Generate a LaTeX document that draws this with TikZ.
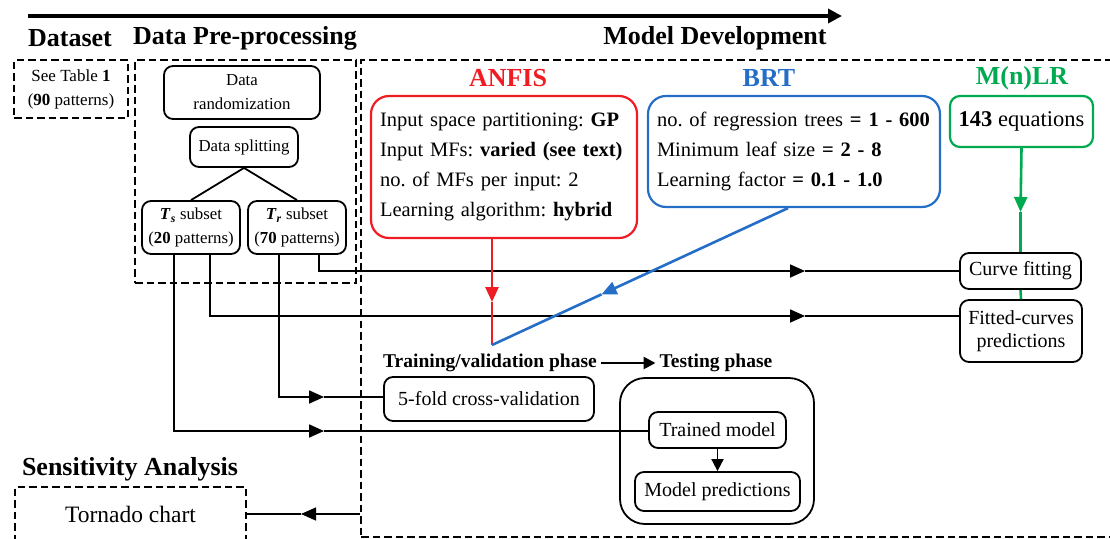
\documentclass[tikz,border=0pt]{standalone}
\usepackage{fontspec}
\setmainfont{Liberation Serif}
\usetikzlibrary{arrows.meta,calc}

\definecolor{anfisred}{RGB}{240,28,36}
\definecolor{brtblue}{RGB}{36,110,200}
\definecolor{mlrgreen}{RGB}{0,170,80}

\tikzset{
  sz/.style 2 args={minimum width=#1pt, minimum height=#2pt},
  dashbox/.style={draw, line width=2.9pt, dash pattern=on 7.5pt off 4pt, inner sep=0pt, align=center},
  rbox/.style={draw, line width=1.8pt, rounded corners=9pt, align=center, inner sep=0pt,
    font=\fontsize{20}{23}\selectfont},
  sbox/.style={rbox, font=\fontsize{16.8}{24}\selectfont},
  cbox/.style={draw, line width=2.2pt, rounded corners=18pt, inner sep=0pt},
  head/.style={font=\bfseries\fontsize{26}{28}\selectfont, inner sep=2pt},
  subhead/.style={font=\bfseries\fontsize{19.5}{22}\selectfont, inner sep=4pt},
  conn/.style={line width=1.8pt},
  flow/.style={line width=2.6pt},
  tip/.style={-{Triangle[length=15pt,width=13pt]}},
}

\newcommand{\Tsub}[1]{\textbf{\textit{T}}\textsubscript{\textbf{\textit{#1}}}}

\begin{document}
\frenchspacing
\begin{tikzpicture}[x=1pt,y=-1pt]
\useasboundingbox (0,0) rectangle (1110,538);

% overall flow arrow
\coordinate (flowA) at (28,16);
\coordinate (flowB) at (842,16);
\draw[line width=4pt, -{Triangle[length=14pt,width=14pt]}] (flowA) -- (flowB);

% stage headings
\node[head] (hds) at (70,38) {Dataset};
\node[head] (hpre) at (245,38) {Data Pre-processing};
\node[head] (hmd) at (715,38) {Model Development};
\node[head] (hsens) at (130,469) {Sensitivity Analysis};

% dataset
\node[dashbox, sz={114}{58}, font=\fontsize{17}{24}\selectfont] (ds) at (71,89)
  {See Table \textbf{1}\\(\textbf{90} patterns)};

% pre-processing
\node[dashbox, sz={221}{223}] (pre) at (245.5,171.5) {};
\node[sbox, sz={156}{53}] (rand) at (242,92.5) {Data\\randomization};
\node[sbox, sz={108}{40}] (split) at (244,147) {Data splitting};
\node[sbox, sz={98}{53}] (ts) at (191,227.5) {\Tsub{s} subset\\(\textbf{20} patterns)};
\node[sbox, sz={98}{53}] (tr) at (297,227.5) {\Tsub{r} subset\\(\textbf{70} patterns)};
\draw[conn] (split.south) -- (ts.north);
\draw[conn] (split.south) -- (tr.north);

% model development
\node[dashbox, sz={764}{477}] (md) at (743,298.5) {};

\node[head, text=anfisred] (hanfis) at (508,78) {ANFIS};
\node[head, text=brtblue] (hbrt) at (769,78) {BRT};
\node[head, text=mlrgreen] (hmlr) at (1022,78) {M(n)LR};

\node[cbox, draw=anfisred, sz={266}{142}, text width=248pt, align=left,
  font=\fontsize{20.5}{30}\selectfont] (anfis) at (504,167)
  {Input space partitioning: \textbf{GP}\\
   Input MFs: \textbf{varied (see text)}\\
   no. of MFs per input: 2\\
   Learning algorithm: \textbf{hybrid}};

\node[cbox, draw=brtblue, sz={292}{111}, text width=274pt, align=left,
  font=\fontsize{20.5}{30}\selectfont] (brt) at (794,151.5)
  {no. of regression trees \textbf{= 1 - 600}\\
   Minimum leaf size \textbf{= 2 - 8}\\
   Learning factor \textbf{= 0.1 - 1.0}};

\node[cbox, draw=mlrgreen, rounded corners=10pt, sz={143}{51},
  font=\fontsize{22.5}{24}\selectfont] (mlr) at (1021.5,121.5) {\textbf{143} equations};

\node[rbox, sz={121}{36}] (curve) at (1020.5,271) {Curve fitting};
\node[rbox, sz={122}{62}] (fitted) at (1021,331) {Fitted-curves\\predictions};

\node[subhead] (htrain) at (490,363) {Training/validation phase};
\node[subhead] (htest) at (716,363) {Testing phase};
\draw[line width=2.6pt, -{Triangle[length=12pt,width=12pt]}] (htrain.east) -- (htest.west);

\node[rbox, sz={210}{44}] (cv) at (489,399) {5-fold cross-validation};
\node[draw, line width=1.8pt, rounded corners=25pt, sz={194}{146}] (test) at (717,451) {};
\node[rbox, sz={137}{36}] (trained) at (717.5,430) {Trained model};
\node[rbox, sz={165}{39}] (pred) at (717.5,491.5) {Model predictions};
\draw[conn, -{Triangle[length=12pt,width=12pt]}] (trained.south) -- (pred.north);

% sensitivity analysis
\node[dashbox, sz={231}{54}, font=\fontsize{23.5}{26}\selectfont] (tornado) at (130.5,514) {Tornado chart};

% data flows from the subsets
\coordinate (a1) at (805,271);
\coordinate (a2) at (805,316);
\coordinate (a3) at (324,397);
\coordinate (a4) at (324,431);
\draw[conn, tip] ([xshift=22pt]tr.south) |- (a1);
\draw[conn] (a1) -- (curve.west);
\draw[conn, tip] ([xshift=19pt]ts.south) |- (a2);
\draw[conn] (a2) -- (a2 -| fitted.west);
\draw[conn, tip] ([xshift=-18pt]tr.south) |- (a3);
\draw[conn] (a3) -- (a3 -| cv.west);
\draw[conn, tip] ([xshift=-17pt]ts.south) |- (a4);
\draw[conn] (a4) -- (a4 -| trained.west);

% ANFIS and BRT feed the training phase
\coordinate (meet) at (492,345);
\coordinate (r1) at (492,302);
\draw[flow, anfisred, tip] ([xshift=-12pt]anfis.south) -- (r1);
\draw[flow, anfisred] (r1) -- (meet);
\coordinate (b0) at ([xshift=-6pt]brt.south);
\coordinate (b1) at ($(b0)!0.63!(meet)$);
\draw[flow, brtblue, tip] (b0) -- (b1);
\draw[flow, brtblue] (b1) -- (meet);

% M(n)LR path
\coordinate (g1) at (1020.5,212);
\draw[flow, mlrgreen, tip] (mlr.south) -- (g1);
\draw[flow, mlrgreen] (g1) -- (curve.north);
\draw[flow, mlrgreen] (curve.south) -- (fitted.north);

% results to sensitivity analysis
\coordinate (t0) at (md.west |- tornado.east);
\coordinate (t1) at (301,514);
\draw[line width=1.4pt, tip] (t0) -- (t1);
\draw[line width=1.4pt] (t1) -- (tornado.east);
\end{tikzpicture}
\end{document}
